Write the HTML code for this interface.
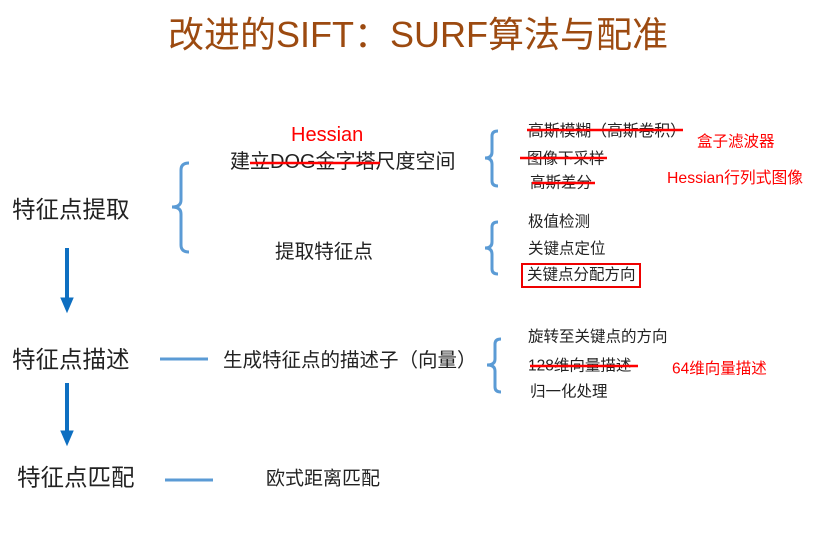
<!DOCTYPE html>
<html><head><meta charset="utf-8"><style>
body{margin:0;width:819px;height:540px;background:#fff;position:relative;overflow:hidden;font-family:"Liberation Sans","Noto Sans CJK SC",sans-serif;color:#222}
.t{position:absolute;white-space:nowrap;line-height:1;transform:translateY(-50%)}
.r{color:#f00}
</style></head><body>
<div class="t" style="left:168px;top:35px;font-size:36px;color:#9c4a10">改进的SIFT：SURF算法与配准</div>
<div class="t" style="left:12px;top:210px;font-size:23.5px">特征点提取</div>
<div class="t" style="left:12px;top:360px;font-size:23.5px">特征点描述</div>
<div class="t" style="left:17px;top:478px;font-size:23.5px">特征点匹配</div>
<div class="t r" style="left:291px;top:135px;font-size:20px">Hessian</div>
<div class="t" style="left:230px;top:162px;font-size:20px">建立DOG金字塔尺度空间</div>
<div class="t" style="left:275px;top:253px;font-size:19.6px">提取特征点</div>
<div class="t" style="left:223px;top:361px;font-size:19.5px">生成特征点的描述子（向量）</div>
<div class="t" style="left:266px;top:479px;font-size:19px">欧式距离匹配</div>
<div class="t" style="left:528px;top:132px;font-size:15.8px">高斯模糊（高斯卷积）</div>
<div class="t" style="left:527px;top:159px;font-size:15.5px">图像下采样</div>
<div class="t" style="left:530px;top:183px;font-size:15.5px">高斯差分</div>
<div class="t" style="left:528px;top:222px;font-size:15.5px">极值检测</div>
<div class="t" style="left:528px;top:249px;font-size:15.5px">关键点定位</div>
<div class="t" style="left:527px;top:275px;font-size:15.5px">关键点分配方向</div>
<div class="t" style="left:528px;top:337px;font-size:15.5px">旋转至关键点的方向</div>
<div class="t" style="left:528px;top:366px;font-size:15.5px">128维向量描述</div>
<div class="t" style="left:530px;top:392px;font-size:15.5px">归一化处理</div>
<div class="t r" style="left:697px;top:142px;font-size:15.5px">盒子滤波器</div>
<div class="t r" style="left:667px;top:179px;font-size:15.8px">Hessian行列式图像</div>
<div class="t r" style="left:672px;top:369px;font-size:15.5px">64维向量描述</div>
<svg width="819" height="540" style="position:absolute;left:0;top:0">
<g fill="none" stroke="#5b9bd5" stroke-width="3">
<path d="M189 163 Q181 163 181 170 V200 Q181 207 172 207 Q181 207 181 214 V245 Q181 252 189 252"/>
<path d="M498 131 Q492 131 492 136 V152 Q492 158 485 158 Q492 158 492 164 V181 Q492 186 498 186"/>
<path d="M498 222 Q492 222 492 227 V242 Q492 248 485 248 Q492 248 492 254 V269 Q492 274 498 274"/>
<path d="M501 339 Q495 339 495 344 V359 Q495 365 487 365 Q495 365 495 371 V387 Q495 392 501 392"/>
<path d="M160 359 H208 M165 480 H213"/>
</g>
<g fill="#0e6fc1" stroke="#0e6fc1">
<line x1="67" y1="248" x2="67" y2="300" stroke-width="4"/><path d="M61 298 L73 298 L67 312Z"/>
<line x1="67" y1="383" x2="67" y2="433" stroke-width="4"/><path d="M61 431 L73 431 L67 445Z"/>
</g>
<g stroke="#f00" stroke-width="2.5">
<line x1="250" y1="163" x2="380" y2="163"/>
<line x1="527" y1="130" x2="683" y2="130"/>
<line x1="520" y1="158" x2="607" y2="158"/>
<line x1="532" y1="183" x2="595" y2="183"/>
<line x1="530" y1="366" x2="638" y2="366"/>
</g>
<rect x="522" y="264" width="118" height="23" fill="none" stroke="#e00" stroke-width="2"/>
</svg>
</body></html>
